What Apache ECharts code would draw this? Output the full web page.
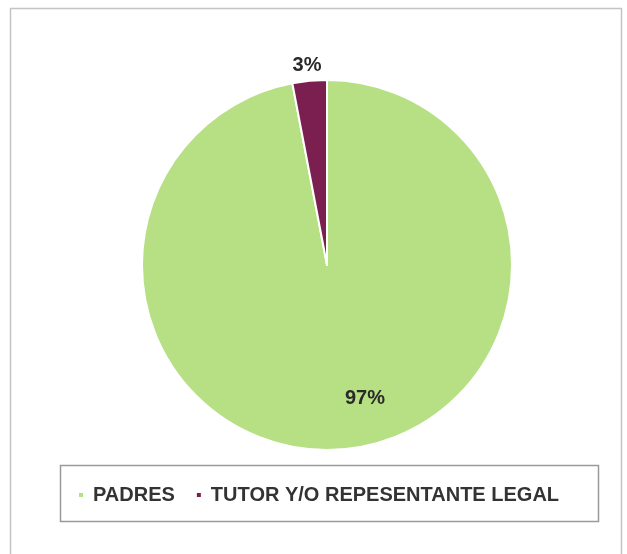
<!DOCTYPE html>
<html>
<head>
<meta charset="utf-8">
<script src="https://cdn.jsdelivr.net/npm/echarts@6/dist/echarts.min.js"></script>
<style>
html,body{margin:0;padding:0;background:#fff;}
#chart{width:627px;height:554px;}
</style>
</head>
<body>
<div id="chart"></div>
<script>
const categories = ['PADRES', 'TUTOR Y/O REPESENTANTE LEGAL'];
const values = [97, 3];
const colors = ['#b7df84', '#7b1f50'];

const chart = echarts.init(document.getElementById('chart'), null, {renderer: 'canvas'});
const labelShift = [[29, 38], [-11, -104]];
chart.setOption({
  backgroundColor: '#ffffff',
  animation: false,
  graphic: [
    {type: 'rect', shape: {x: 10.5, y: 8.5, width: 611, height: 560}, style: {fill: 'none', stroke: '#c4c4c4', lineWidth: 1.5}, z: -1},
    {type: 'rect', shape: {x: 60.5, y: 465.5, width: 538, height: 56}, style: {fill: 'none', stroke: '#9a9a9a', lineWidth: 1.5}, z: -1}
  ],
  legend: {
    data: categories,
    left: 77,
    top: 485,
    icon: 'rect',
    itemWidth: 6,
    itemHeight: 6,
    itemGap: 20,
    padding: 0,
    textStyle: {fontFamily: 'Liberation Sans, Arial, sans-serif', fontSize: 20, fontWeight: 'bold', color: '#333333', padding: [0, 0, 0, 4]}
  },
  series: [{
    type: 'pie',
    center: [327, 265],
    radius: 185,
    startAngle: 90,
    clockwise: true,
    data: categories.map((c, i) => ({name: c, value: values[i], itemStyle: {color: colors[i]}})),
    itemStyle: {borderColor: '#ffffff', borderWidth: 2},
    label: {
      show: true,
      position: 'inside',
      formatter: '{d}%',
      fontFamily: 'Liberation Sans, Arial, sans-serif',
      fontWeight: 'bold',
      fontSize: 20,
      color: '#2a2a2a'
    },
    labelLine: {show: false},
    labelLayout: function (p) {
      const s = labelShift[p.dataIndex];
      return {dx: s[0], dy: s[1]};
    },
    emphasis: {disabled: true}
  }]
});
</script>
</body>
</html>
